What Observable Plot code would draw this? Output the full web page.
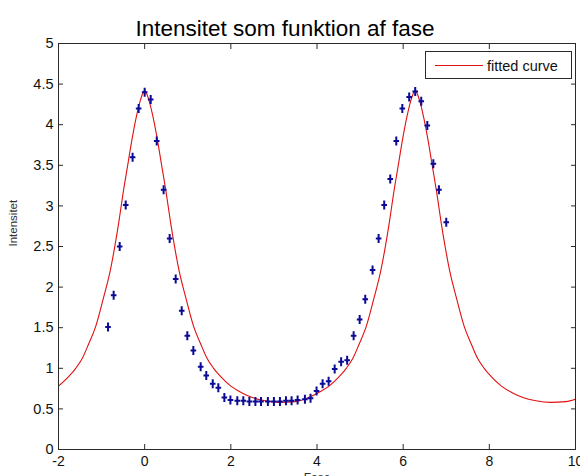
<!DOCTYPE html>
<html><head><meta charset="utf-8">
<script src="https://cdn.jsdelivr.net/npm/d3@7"></script>
<script src="https://cdn.jsdelivr.net/npm/@observablehq/plot@0.6"></script>
<style>
html,body{margin:0;padding:0;background:#fff;}
#chart{position:relative;width:580px;height:476px;overflow:hidden;}
</style></head><body><div id="chart"></div>
<script>
const title = "Intensitet som funktion af fase";
const xLabel = "Fase";
const yLabel = "Intensitet";
const legendLabel = "fitted curve";
const xTicks = [-2, 0, 2, 4, 6, 8, 10];
const yTicks = [0, 0.5, 1, 1.5, 2, 2.5, 3, 3.5, 4, 4.5, 5];

// measured points
const phase = [-0.85, -0.72, -0.58, -0.44, -0.28, -0.14, 0.0, 0.14, 0.28, 0.44, 0.58, 0.72, 0.86, 0.99, 1.13, 1.30, 1.43, 1.58, 1.71, 1.85, 1.99, 2.15, 2.29, 2.43, 2.57, 2.70, 2.86, 3.00, 3.14, 3.28, 3.41, 3.55, 3.72, 3.85, 3.99, 4.13, 4.27, 4.41, 4.56, 4.70, 4.85, 4.99, 5.12, 5.29, 5.43, 5.56, 5.70, 5.84, 5.98, 6.14, 6.28, 6.42, 6.56, 6.70, 6.83, 7.00];
const intensity = [1.51, 1.90, 2.50, 3.01, 3.60, 4.20, 4.40, 4.31, 3.80, 3.20, 2.60, 2.10, 1.71, 1.40, 1.22, 1.02, 0.91, 0.81, 0.76, 0.64, 0.61, 0.60, 0.60, 0.59, 0.59, 0.59, 0.59, 0.59, 0.59, 0.60, 0.60, 0.61, 0.62, 0.63, 0.72, 0.81, 0.84, 0.99, 1.08, 1.10, 1.40, 1.60, 1.85, 2.21, 2.60, 3.01, 3.33, 3.80, 4.20, 4.34, 4.41, 4.29, 3.99, 3.52, 3.20, 2.80];

// fitted curve
const fitPhase = [-2.0, -1.76, -1.6, -1.45, -1.3, -1.14, -0.95, -0.8, -0.7, -0.6, -0.5, -0.4, -0.3, -0.2, -0.1, 0.0, 0.1, 0.2, 0.3, 0.4, 0.5, 0.6, 0.7, 0.8, 0.95, 1.14, 1.3, 1.45, 1.6, 1.76, 2.0, 2.25, 2.5, 2.8, 3.14, 3.5, 3.8, 4.03, 4.28, 4.52, 4.68, 4.83, 4.98, 5.14, 5.33, 5.48, 5.58, 5.68, 5.78, 5.88, 5.98, 6.08, 6.18, 6.28, 6.38, 6.48, 6.58, 6.68, 6.78, 6.88, 6.98, 7.08, 7.23, 7.42, 7.58, 7.73, 7.88, 8.04, 8.28, 8.53, 8.78, 9.08, 9.42, 9.78, 10.0];
const fitIntensity = [0.78, 0.90, 1.00, 1.12, 1.30, 1.51, 1.88, 2.20, 2.48, 2.80, 3.16, 3.48, 3.80, 4.08, 4.30, 4.42, 4.30, 4.08, 3.80, 3.48, 3.16, 2.80, 2.48, 2.20, 1.88, 1.51, 1.30, 1.12, 1.00, 0.90, 0.78, 0.70, 0.64, 0.60, 0.58, 0.59, 0.64, 0.70, 0.78, 0.90, 1.00, 1.12, 1.30, 1.51, 1.88, 2.20, 2.48, 2.80, 3.16, 3.48, 3.80, 4.08, 4.30, 4.42, 4.30, 4.08, 3.80, 3.48, 3.16, 2.80, 2.48, 2.20, 1.88, 1.51, 1.30, 1.12, 1.00, 0.90, 0.78, 0.70, 0.64, 0.60, 0.58, 0.59, 0.62];

const points = phase.map((p, i) => ({phase: p, intensity: intensity[i]}));
const fit = fitPhase.map((p, i) => ({phase: p, intensity: fitIntensity[i]}));

const FONT = "'Liberation Sans', Arial, Helvetica, sans-serif";
const RED = "#e01010";
const BLUE = "#0a0a96";
const AXIS = "#2a2a2a";

const plusBar = {
  draw(ctx) {
    ctx.moveTo(0, -4.5); ctx.lineTo(0, 4.5);
    ctx.moveTo(-2.8, 0); ctx.lineTo(2.8, 0);
  }
};

const chart = Plot.plot({
  width: 580,
  height: 476,
  marginLeft: 58,
  marginRight: 5,
  marginTop: 43,
  marginBottom: 27,
  style: {fontFamily: FONT, fontSize: "13px", color: "#000", background: "#fff", overflow: "visible"},
  x: {domain: [-2, 10], ticks: xTicks},
  y: {domain: [0, 5], ticks: yTicks},
  marks: [
    Plot.line(fit, {x: "phase", y: "intensity", stroke: RED, strokeWidth: 1.1, curve: "monotone-x", clip: true}),
    Plot.dot(points, {x: "phase", y: "intensity", symbol: plusBar, stroke: BLUE, strokeWidth: 2, fill: "none"}),
    Plot.frame({stroke: AXIS, strokeWidth: 1}),
    Plot.axisX(xTicks, {anchor: "bottom", tickSize: -5, tickFormat: () => "", label: null, stroke: AXIS}),
    Plot.axisX(xTicks, {anchor: "top", tickSize: -5, tickFormat: () => "", label: null, stroke: AXIS}),
    Plot.axisY(yTicks, {anchor: "left", tickSize: -5, tickFormat: () => "", label: null, stroke: AXIS}),
    Plot.axisY(yTicks, {anchor: "right", tickSize: -5, tickFormat: () => "", label: null, stroke: AXIS}),
    Plot.axisX(xTicks, {anchor: "bottom", tickSize: 0, tickPadding: 7, label: null, fontSize: 14, fill: "#111", tickFormat: d => String(d).replace("\u2212", "-")}),
    Plot.axisY(yTicks, {anchor: "left", tickSize: 0, tickPadding: 5, label: null, fontSize: 14.5, fill: "#111", tickFormat: d => String(d)}),
    Plot.text([title], {frameAnchor: "top", dx: -32, dy: -23, fontSize: 22.5, fill: "#000", text: d => d}),
    Plot.text([yLabel], {frameAnchor: "left", dx: -45, rotate: -90, fontSize: 11.5, fill: "#333", text: d => d}),
    Plot.text([xLabel], {frameAnchor: "bottom", dy: 32, fontSize: 12, fill: "#333", text: d => d})
  ]
});
document.getElementById("chart").appendChild(chart);

// legend box (MATLAB style), drawn into the plot's svg
const svg = d3.select(chart);
const lg = svg.append("g").attr("font-family", FONT);
lg.append("rect").attr("x", 425.5).attr("y", 51.5).attr("width", 146).attr("height", 27)
  .attr("fill", "#fff").attr("stroke", AXIS);
lg.append("line").attr("x1", 435).attr("x2", 483).attr("y1", 65.5).attr("y2", 65.5)
  .attr("stroke", RED).attr("stroke-width", 1.1);
lg.append("text").attr("x", 487).attr("y", 65.5).attr("dy", "0.35em")
  .attr("text-anchor", "start")
  .attr("font-size", 14.5).attr("fill", "#111").text(legendLabel);
</script>
</body></html>
